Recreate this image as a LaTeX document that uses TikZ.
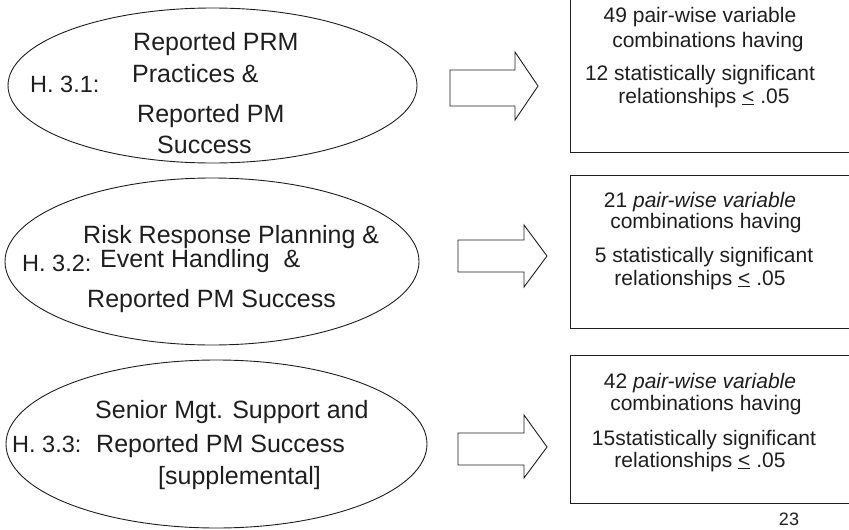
\documentclass[tikz,border=0pt]{standalone}
\usepackage{fontspec}
\setmainfont{Liberation Sans}
\usetikzlibrary{shapes.geometric}
\definecolor{ink}{HTML}{1E1E1E}
\tikzset{
  oval/.style={draw=ink, ellipse, line width=0.9pt, inner sep=0pt},
  panel/.style={draw=ink, rectangle, line width=0.9pt, inner sep=0pt, anchor=north west},
  blockarrow/.style={draw=ink, line width=0.9pt, line join=miter},
  big/.style={font=\fontsize{25}{30}\selectfont, text=ink, anchor=base west, inner sep=0pt},
  tag/.style={font=\fontsize{23.5}{28}\selectfont, text=ink, anchor=base west, inner sep=0pt},
  small/.style={font=\fontsize{21}{25}\selectfont, text=ink, anchor=base, inner sep=0pt},
}
\newcommand{\lteq}{\underline{<}}
\begin{document}
\begin{tikzpicture}[x=1pt, y=-1pt]
  \useasboundingbox (0,0) rectangle (849,530);
  \clip (0,0) rectangle (849,530);

  % hypothesis ovals
  \node[oval, minimum width=409pt, minimum height=155pt] (e1) at (212.5,85.5) {};
  \node[oval, minimum width=414pt, minimum height=167pt] (e2) at (212,261.5) {};
  \node[oval, minimum width=421pt, minimum height=168pt] (e3) at (216.5,444) {};

  % oval texts
  \node[tag]  (h1)  at (30,92)   {H. 3.1:};
  \node[big]  (t1a) at (133,50)  {Reported PRM};
  \node[big]  (t1b) at (132,82)  {Practices \&};
  \node[big]  (t1c) at (137,122) {Reported PM};
  \node[big]  (t1d) at (157,153) {Success};

  \node[tag]  (h2)  at (22,271)  {H. 3.2:};
  \node[big]  (t2a) at (83,243)  {Risk Response Planning \&};
  \node[big]  (t2b) at (100,267) {Event Handling\ \ \&};
  \node[big]  (t2c) at (87,307)  {Reported PM Success};

  \node[tag]  (h3)  at (12,452)  {H. 3.3:};
  \node[big]  (t3a) at (95,418)  {Senior Mgt. Support and};
  \node[big]  (t3b) at (96,452)  {Reported PM Success};
  \node[big]  (t3c) at (158,484) {[supplemental]};

  % block arrows
  \coordinate (a1) at (450,70);
  \coordinate (a2) at (458,240);
  \coordinate (a3) at (458,433);
  \draw[blockarrow] (a1) -- ++(65,0) -- ++(0,-18) -- ++(23,34) -- ++(-23,34) -- ++(0,-14) -- ++(-65,0) -- cycle;
  \draw[blockarrow] (a2) -- ++(66,0) -- ++(0,-15) -- ++(23,31) -- ++(-23,31) -- ++(0,-15) -- ++(-66,0) -- cycle;
  \draw[blockarrow] (a3) -- ++(66,0) -- ++(0,-18) -- ++(23,32) -- ++(-23,31) -- ++(0,-13) -- ++(-66,0) -- cycle;

  % result boxes
  \node[panel, minimum width=290pt, minimum height=162pt] (b1) at (570,-10) {};
  \node[panel, minimum width=290pt, minimum height=153pt] (b2) at (570,175) {};
  \node[panel, minimum width=290pt, minimum height=148pt] (b3) at (570,355) {};

  \node[small] (r1a) at (700,22)  {49 pair-wise variable};
  \node[small] (r1b) at (708,47)  {combinations having};
  \node[small] (r1c) at (700,80)  {12 statistically significant};
  \node[small] (r1d) at (704,103) {relationships \lteq{} .05};

  \node[small] (r2a) at (700,207) {21 \textit{pair-wise variable}};
  \node[small] (r2b) at (706,228) {combinations having};
  \node[small] (r2c) at (704,262) {5 statistically significant};
  \node[small] (r2d) at (700,285) {relationships \lteq{} .05};

  \node[small] (r3a) at (700,388) {42 \textit{pair-wise variable}};
  \node[small] (r3b) at (706,410) {combinations having};
  \node[small] (r3c) at (704,445) {15statistically significant};
  \node[small] (r3d) at (700,467) {relationships \lteq{} .05};

  % page number
  \node[small, font=\fontsize{18}{21}\selectfont] (pg) at (789,525) {23};
\end{tikzpicture}
\end{document}
